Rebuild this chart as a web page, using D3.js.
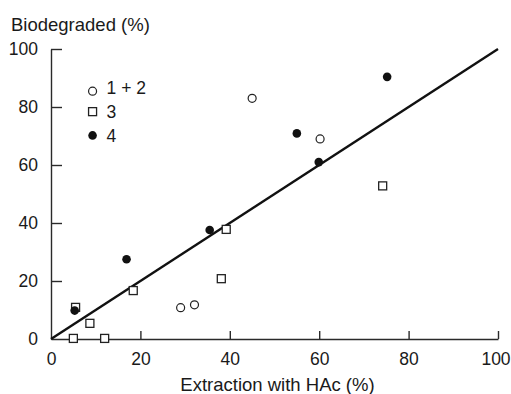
<!DOCTYPE html>
<html>
<head>
<meta charset="utf-8">
<script src="https://cdn.jsdelivr.net/npm/d3@7"></script>
<style>
  body { margin: 0; background: #fff; }
  text { font-family: "Liberation Sans", Arial, sans-serif; fill: #1a1a1a; }
</style>
</head>
<body>
<div id="chart"></div>
<script>
// data
var openX = [45.0, 60.2, 29.0, 32.1];           // 1 + 2
var openY = [83.0, 69.0, 10.8, 11.8];
var squareX = [5.5, 8.7, 5.0, 12.0, 18.4, 39.2, 38.1, 74.2];   // 3
var squareY = [10.9, 5.4, 0.2, 0.2, 16.7, 37.8, 20.8, 52.8];
var filledX = [5.3, 16.9, 35.5, 55.0, 59.9, 75.2];  // 4
var filledY = [9.8, 27.5, 37.6, 70.9, 61.0, 90.4];
var fitLine = [[0, 0], [100, 100]];
var xTicks = [0, 20, 40, 60, 80, 100];
var yTicks = [0, 20, 40, 60, 80, 100];
var legendNames = ["1 + 2", "3", "4"];
var legendY = [86.5, 78.4, 70.2];

var width = 511, height = 394;

var svg = d3.select("#chart").append("svg")
    .attr("width", width)
    .attr("height", height);

var x = d3.scaleLinear().domain([0, 100]).range([51, 498]);
var y = d3.scaleLinear().domain([0, 100]).range([339, 49]);

var xAxis = d3.axisBottom(x).tickValues(xTicks).tickSize(-8).tickSizeOuter(0).tickPadding(14);
var yAxis = d3.axisLeft(y).tickValues(yTicks).tickSize(-11).tickSizeOuter(0).tickPadding(13);

var gx = svg.append("g")
    .attr("transform", "translate(0," + y(0) + ")")
    .call(xAxis);
var gy = svg.append("g")
    .attr("transform", "translate(" + x(0) + ",0)")
    .call(yAxis);

[gx, gy].forEach(function(g) {
  g.selectAll("path, line").attr("stroke", "#2a2a2a").attr("stroke-width", 1.4);
  g.selectAll("text").attr("font-size", 17.5).attr("font-family", "Liberation Sans, Arial, sans-serif").attr("fill", "#1a1a1a");
});
// hide the tick marks that sit on the other axis
gx.selectAll(".tick line").filter(function(d) { return d === 0; }).remove();
gy.selectAll(".tick line").filter(function(d) { return d === 0; }).remove();
// keep the last x label inside the picture
gx.selectAll(".tick text").filter(function(d) { return d === 100; }).attr("dx", -2.5);

svg.append("text")
    .attr("x", 11)
    .attr("y", 31)
    .attr("font-size", 18.5)
    .text("Biodegraded (%)");

svg.append("text")
    .attr("x", (x(0) + x(100)) / 2 + 3)
    .attr("y", 391)
    .attr("text-anchor", "middle")
    .attr("font-size", 18.5)
    .text("Extraction with HAc (%)");

// regression line
svg.append("path")
    .datum(fitLine)
    .attr("fill", "none")
    .attr("stroke", "#111")
    .attr("stroke-width", 2.4)
    .attr("d", d3.line().x(function(d) { return x(d[0]); }).y(function(d) { return y(d[1]); }));

svg.append("g").selectAll("rect")
    .data(squareX)
    .enter().append("rect")
    .attr("x", function(d) { return x(d) - 4; })
    .attr("y", function(d, i) { return y(squareY[i]) - 4; })
    .attr("width", 8)
    .attr("height", 8)
    .attr("fill", "#fff")
    .attr("stroke", "#222")
    .attr("stroke-width", 1.3);

svg.append("g").selectAll("circle")
    .data(openX)
    .enter().append("circle")
    .attr("cx", function(d) { return x(d); })
    .attr("cy", function(d, i) { return y(openY[i]); })
    .attr("r", 4)
    .attr("fill", "#fff")
    .attr("stroke", "#222")
    .attr("stroke-width", 1.2);

svg.append("g").selectAll("circle")
    .data(filledX)
    .enter().append("circle")
    .attr("cx", function(d) { return x(d); })
    .attr("cy", function(d, i) { return y(filledY[i]); })
    .attr("r", 4.3)
    .attr("fill", "#111");

// legend
var lg = svg.append("g");
var lx = x(9.3);
lg.append("circle").attr("cx", lx).attr("cy", y(legendY[0]) + 3).attr("r", 4)
    .attr("fill", "#fff").attr("stroke", "#222").attr("stroke-width", 1.2);
lg.append("rect").attr("x", lx - 4).attr("y", y(legendY[1]) - 4).attr("width", 8).attr("height", 8)
    .attr("fill", "#fff").attr("stroke", "#222").attr("stroke-width", 1.3);
lg.append("circle").attr("cx", lx).attr("cy", y(legendY[2])).attr("r", 4.3).attr("fill", "#111");
lg.selectAll("text")
    .data(legendNames)
    .enter().append("text")
    .attr("x", lx + 14)
    .attr("y", function(d, i) { return y(legendY[i]); })
    .attr("dy", "0.35em")
    .attr("font-size", 17.5)
    .text(function(d) { return d; });
</script>
</body>
</html>
